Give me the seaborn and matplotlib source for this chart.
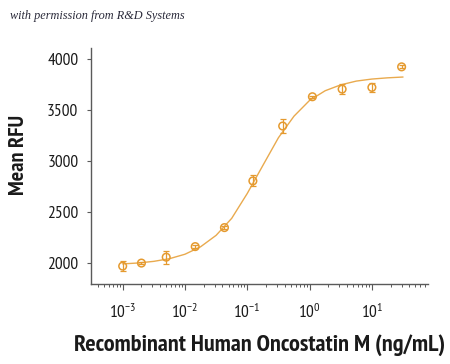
import numpy as np
import pandas as pd
import matplotlib
matplotlib.use("Agg")
import matplotlib.pyplot as plt
import seaborn as sns
from matplotlib import font_manager as fm
from matplotlib.ticker import LogLocator, NullFormatter, FixedLocator

# measured points (ng/mL, mean RFU, error)
conc = [0.001, 0.002, 0.005, 0.0146, 0.043, 0.123, 0.37, 1.11, 3.33, 10, 30]
rfu = [1965, 1995, 2053, 2157, 2344, 2803, 3343, 3631, 3706, 3723, 3925]
err = [46, 10, 64, 15, 15, 54, 65, 10, 48, 48, 15]

# fitted curve
curve_logx = [-3.0, -2.75, -2.5, -2.25, -2.0, -1.75, -1.5, -1.25, -1.0, -0.75,
              -0.5, -0.25, 0.0, 0.25, 0.5, 0.75, 1.0, 1.25, 1.5]
curve_rfu = [1987, 1996, 2012, 2038, 2082, 2155, 2268, 2435, 2680, 2955,
             3228, 3440, 3595, 3690, 3748, 3785, 3805, 3817, 3825]

sns.set_style("white")

installed = {f.name for f in fm.fontManager.ttflist}
narrow = next((n for n in ["PT Sans Narrow", "Roboto Condensed", "Fira Sans Condensed",
                           "Open Sans Condensed", "Liberation Sans Narrow"] if n in installed),
              "DejaVu Sans")
plt.rcParams["font.family"] = [narrow, "DejaVu Sans"]
plt.rcParams["mathtext.default"] = "regular"

orange = "#E59A2F"
line_col = "#E9AA4E"
axis_col = "#5a5a5a"
text_col = "#1a1a1a"

df = pd.DataFrame({"conc": conc, "rfu": rfu, "err": err})
curve = pd.DataFrame({"conc": 10.0 ** np.array(curve_logx), "rfu": curve_rfu})

fig = plt.figure(figsize=(4.5, 3.64), dpi=100)
ax = fig.add_axes([0.202, 0.22, 0.749, 0.648])

sns.lineplot(data=curve, x="conc", y="rfu", color=line_col, linewidth=1.0, ax=ax)
ax.errorbar(df["conc"], df["rfu"], yerr=df["err"], fmt="none", ecolor=orange,
            elinewidth=0.9, capsize=2.5, capthick=0.9, zorder=3)
sns.scatterplot(data=df, x="conc", y="rfu", marker="o", s=30, facecolor="none",
                edgecolor=orange, linewidth=1.1, ax=ax, zorder=4)

ax.set_xscale("log")
ax.set_xlim(10 ** -3.51, 10 ** 1.9)
ax.set_ylim(1790, 4110)
ax.yaxis.set_major_locator(FixedLocator([2000, 2500, 3000, 3500, 4000]))
ax.xaxis.set_major_locator(LogLocator(base=10, numticks=10))
ax.xaxis.set_minor_locator(LogLocator(base=10, subs=np.arange(2, 10), numticks=20))
ax.xaxis.set_minor_formatter(NullFormatter())

for side in ["top", "right"]:
    ax.spines[side].set_visible(False)
for side in ["left", "bottom"]:
    ax.spines[side].set_color(axis_col)
    ax.spines[side].set_linewidth(1.0)

ax.tick_params(axis="y", which="major", direction="out", length=3, width=0.8,
               color=axis_col, labelsize=12.5, labelcolor=text_col, pad=6, left=True)
ax.tick_params(axis="x", which="major", direction="out", length=4, width=0.8,
               color=axis_col, labelsize=12.5, labelcolor=text_col, pad=10, bottom=True)
ax.tick_params(axis="x", which="minor", direction="out", length=2.5, width=0.7,
               color=axis_col, bottom=True)

ax.set_xlabel("Recombinant Human Oncostatin M (ng/mL)", fontsize=17.5,
              fontweight="bold", color=text_col, labelpad=9)
ax.set_ylabel("Mean RFU", fontsize=16, fontweight="bold", color=text_col)
ax.yaxis.set_label_coords(-0.187, 0.547)
ax.grid(False)

fig.text(0.022, 0.955, "with permission from R&D Systems", fontsize=8.8,
         fontstyle="italic", family="Liberation Serif", color="#2a2a3a",
         va="center", ha="left")

fig.savefig("out.png", dpi=100)
